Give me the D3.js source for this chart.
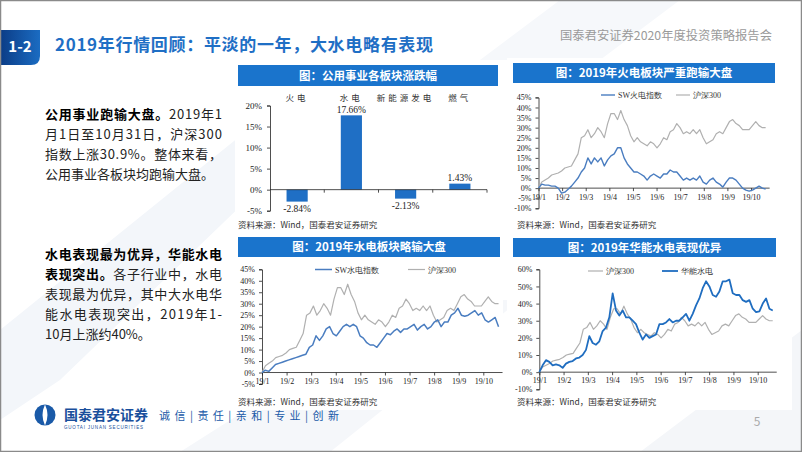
<!DOCTYPE html>
<html><head><meta charset="utf-8">
<script src="https://cdn.jsdelivr.net/npm/d3@7/dist/d3.min.js"></script>
<style>body{margin:0;background:#fff}svg{display:block}</style>
</head><body><svg id="c" width="802" height="452"></svg>
<script>
// ---------- DATA ----------
const barCats = ["火电", "水电", "新能源发电", "燃气"];
const barVals = [-2.84, 17.66, -2.13, 1.43];
const monthLabels = ["19/1","19/2","19/3","19/4","19/5","19/6","19/7","19/8","19/9","19/10"];
const END_MONTH = 9.62; // series span Jan 1 -> Oct 31 on month axis
const hs300 = [0,3,4,5,6.5,7,7.5,8.5,10,10.5,11,14,17,25,26,29,25,27,30,28,25,32,37,37,34,38.5,34,31,26,23,25,23,22,21,23,22,20,22,25,24,28,29,32,30,27,28,27,29,27,29,25,22,23,24,27,28,27,30,33,34,32,31,29,29,29,31,33,31,30,30];
const swThermal = [0,2,1.5,1.5,1,1,0,-2.5,-2,-0.5,1,3,5,8,10,15,12,15,13,15,11,14,16,17,20,20,15,12,10,8,8,7,6,4,6,7,6,5,7,7,9,8,8,6,4,5,4,5,4,6,3,2,4,5,3,2,0.5,3,5,5,4,2,0,-1,-1.5,-1,0,1,0,-0.5];
const swHydro = [0,1,0.5,2,3.5,4,4.5,5,5.5,6,6.5,7,7.5,8,11,12,16,14,16,19,20,17,16,18,20,21,20,21,20,16,15,13,12,12,11,13,15,17,16.5,18,19,17.5,19,19,20,21,18.5,20,21,19,20,22,23,20,22,22,25,26,28,25,24.5,25,26,27,25,26,23,22,23,24,20];
const hnHydro = [0,4,7,6,4,4.5,4,2.5,5,6,6.5,8,8.5,10,13,21,17,16,18,24,26,32,46,36,33,36,32,32,30,28,23,19,22,20,21,22,28,28,29,31,29,30,30,32,34,30,34,39,43,49,53,50,45,44,47,53,53,54,46,45,45,42,41,42,37,35,35.5,40,43,37,36];
const legendThermal = ["SW火电指数", "沪深300"];
const legendHydro = ["SW水电指数", "沪深300"];
const legendHN = ["沪深300", "华能水电"];

// ---------- STYLE ----------
const CJK = "'Noto Sans CJK SC','Noto Sans',sans-serif";
const SERIF = "'Liberation Serif','DejaVu Serif',serif";
const BLUE_BAR = "#1f6fc5";
const TITLE_BG = "#1a74cc";
const GRAY = "#b0b0b0";
const svg = d3.select("#c");

// background
svg.append("rect").attr("width",802).attr("height",452).attr("fill","#fff");
svg.append("path").attr("d","M0,330 L260,120 L330,120 L60,380 L0,420 Z").attr("fill","#f3f6fa");
svg.append("path").attr("d","M180,452 L420,300 L520,300 L330,452 Z").attr("fill","#f5f7fa");
svg.append("path").attr("d","M480,60 L560,0 L680,0 L600,60 Z").attr("fill","#f6f8fb");
svg.append("path").attr("d","M640,452 L802,330 L802,452 Z").attr("fill","#f4f6f9");

// header
const grad = svg.append("defs").append("linearGradient").attr("id","hg").attr("x1","0").attr("x2","1");
grad.append("stop").attr("offset","0").attr("stop-color","#0b3c86");
grad.append("stop").attr("offset","1").attr("stop-color","#1b6cc2");
svg.append("path").attr("d","M0,30 L40,30 L40,56 Q40,65 31,65 L0,65 Z").attr("fill","url(#hg)");
svg.append("text").attr("x",20).attr("y",52).attr("text-anchor","middle").attr("fill","#fff")
  .attr("font-family",CJK).attr("font-weight","bold").attr("font-size",15).text("1-2");
svg.append("text").attr("x",55).attr("y",51).attr("fill","#1f6fc5").attr("font-family",CJK)
  .attr("font-weight","bold").attr("font-size",17).attr("textLength",378).attr("lengthAdjust","spacing")
  .text("2019年行情回顾：平淡的一年，大水电略有表现");
svg.append("text").attr("x",560).attr("y",40).attr("fill","#9a9a9a").attr("font-family",CJK)
  .attr("font-size",12).attr("textLength",212).attr("lengthAdjust","spacingAndGlyphs").text("国泰君安证券2020年度投资策略报告会");

// left text
const paras = [
  {y:119, lines:[[["公用事业跑输大盘。",1],["2019年1",0]],[["月1日至10月31日，沪深300",0]],[["指数上涨30.9%。整体来看，",0]],[["公用事业各板块均跑输大盘。",0]]]},
  {y:259, lines:[[["水电表现最为优异，华能水电",1]],[["表现突出。",1],["各子行业中，水电",0]],[["表现最为优异，其中大水电华",0]],[["能水电表现突出，2019年1-",0]],[["10月上涨约40%。",0]]]}
];
paras.forEach(p=>{
  p.lines.forEach((ln,i)=>{
    const t = svg.append("text").attr("x",45).attr("y",p.y+i*20).attr("font-family",CJK).attr("font-size",13).attr("fill","#222");
    if(i < p.lines.length-1) t.attr("textLength",177).attr("lengthAdjust","spacing");
    ln.forEach(seg=>t.append("tspan").attr("font-weight",seg[1]?"bold":"normal").attr("fill",seg[1]?"#000":"#222").text(seg[0]));
  });
});

function titleBar(x,y,w,h,txt){
  svg.append("rect").attr("x",x).attr("y",y).attr("width",w).attr("height",h).attr("fill",TITLE_BG);
  svg.append("text").attr("x",x+w/2).attr("y",y+h/2+4).attr("text-anchor","middle").attr("fill","#fff")
    .attr("font-family",CJK).attr("font-weight","bold").attr("font-size",11.5).text(txt);
}
function source(x,y){
  svg.append("text").attr("x",x).attr("y",y).attr("font-family",CJK).attr("font-size",8.5).attr("fill","#333")
    .text("资料来源：Wind，国泰君安证券研究");
}
function styleAxis(g){
  g.selectAll("path,line").attr("stroke","#222").attr("stroke-width",0.8);
  g.selectAll("text").attr("font-family",SERIF).attr("font-size",8).attr("fill","#222");
}

// white panels
[[235,60,268,172],[507,58,285,174],[235,232,268,178],[507,232,285,178]].forEach(r=>
  svg.append("rect").attr("x",r[0]).attr("y",r[1]).attr("width",r[2]).attr("height",r[3]).attr("fill","#fff"));

// ---------- BAR CHART ----------
titleBar(238,65,260,21,"图：公用事业各板块涨跌幅");
{
  const x = d3.scaleBand().domain(barCats).range([270,487]).paddingInner(0.61).paddingOuter(0.305);
  const y = d3.scaleLinear().domain([-5,20]).range([210.7,105.5]);
  const gy = svg.append("g").attr("transform","translate(270,0)")
    .call(d3.axisLeft(y).tickValues([-5,0,5,10,15,20]).tickSize(3).tickPadding(5).tickFormat(d=>d+"%"));
  styleAxis(gy); gy.selectAll("text").attr("font-size",9);
  svg.selectAll(".bar").data(barVals).join("rect")
    .attr("x",(d,i)=>x(barCats[i])).attr("width",x.bandwidth())
    .attr("y",d=>y(Math.max(0,d))).attr("height",d=>Math.abs(y(d)-y(0))).attr("fill",BLUE_BAR);
  svg.append("line").attr("x1",270).attr("x2",487).attr("y1",y(0)).attr("y2",y(0)).attr("stroke","#222").attr("stroke-width",0.8);
  const step = x.step();
  for(let k=1;k<=4;k++){
    svg.append("line").attr("x1",270+k*step).attr("x2",270+k*step).attr("y1",y(0)).attr("y2",y(0)+3).attr("stroke","#222").attr("stroke-width",0.8);
  }
  svg.selectAll(".vl").data(barVals).join("text")
    .attr("x",(d,i)=>x(barCats[i])+x.bandwidth()/2)
    .attr("y",d=>d>=0? y(d)-2.5 : y(d)+10)
    .attr("text-anchor","middle").attr("font-family",SERIF).attr("font-size",9.5).attr("fill","#222")
    .text(d=>d.toFixed(2)+"%");
  svg.selectAll(".cl").data(barCats).join("text")
    .attr("x",d=>x(d)+x.bandwidth()/2).attr("y",101).attr("text-anchor","middle")
    .attr("font-family",CJK).attr("font-size",8.5).attr("letter-spacing",3).attr("fill","#333").text(d=>d);
}
source(238,228);

// ---------- LINE CHARTS ----------
function lineChart(o){
  titleBar(o.tb[0],o.tb[1],o.tb[2],o.tb[3],o.title);
  const pxm = (o.x9-o.x0)/9;
  const x = d3.scaleLinear().domain([0,END_MONTH]).range([o.x0,o.x0+END_MONTH*pxm]);
  const y = d3.scaleLinear().domain(o.yDom).range(o.yRange);
  const gy = svg.append("g").attr("transform",`translate(${o.x0},0)`)
    .call(d3.axisLeft(y).tickValues(d3.range(o.yDom[0],o.yDom[1]+0.1,o.yStep)).tickSize(3).tickPadding(4).tickFormat(d=>d+"%"));
  styleAxis(gy);
  const gx = svg.append("g").attr("transform",`translate(0,${y(0)})`)
    .call(d3.axisBottom(x).tickValues(d3.range(0,10)).tickSize(3).tickPadding(o.xpad).tickFormat(i=>monthLabels[i]));
  styleAxis(gx);
  gx.select(".domain").attr("d",`M${o.x0},0H${x(END_MONTH)+4}`);
  o.series.forEach(s=>{
    const n = s.data.length;
    const line = d3.line().x((d,i)=>x(i/(n-1)*END_MONTH)).y(d=>y(d));
    svg.append("path").datum(s.data).attr("d",line).attr("fill","none")
      .attr("stroke",s.color).attr("stroke-width",s.w).attr("stroke-linejoin","round");
  });
  o.legend.forEach(l=>{
    svg.append("line").attr("x1",l.x).attr("x2",l.x+l.len).attr("y1",o.legY).attr("y2",o.legY).attr("stroke",l.color).attr("stroke-width",l.w);
    svg.append("text").attr("x",l.x+l.len+3).attr("y",o.legY+3).attr("font-family",SERIF).attr("font-size",8).attr("fill","#333").text(l.label);
  });
}

lineChart({
  tb:[513,63,262,20], title:"图：2019年火电板块严重跑输大盘",
  x0:538.5, x9:751, yDom:[-10,45], yStep:5, yRange:[208.3,97.4], xpad:3,
  series:[{data:hs300,color:GRAY,w:1.2},{data:swThermal,color:"#4a7dc0",w:1.4}],
  legY:95, legend:[{x:601,len:14,color:"#4a7dc0",w:1.4,label:legendThermal[0]},{x:676,len:14,color:GRAY,w:1.2,label:legendThermal[1]}]
});
source(517,228);

lineChart({
  tb:[238,237,262,20], title:"图：2019年水电板块略输大盘",
  x0:262, x9:483.3, yDom:[-5,45], yStep:5, yRange:[384,269.3], xpad:2.5,
  series:[{data:hs300,color:GRAY,w:1.2},{data:swHydro,color:"#4a7dc0",w:1.5}],
  legY:269.5, legend:[{x:315,len:17,color:"#4a7dc0",w:1.5,label:legendHydro[0]},{x:408,len:17,color:GRAY,w:1.2,label:legendHydro[1]}]
});
source(238,405);

lineChart({
  tb:[513,238,263,19], title:"图：2019年华能水电表现优异",
  x0:539.3, x9:757.7, yDom:[-10,60], yStep:10, yRange:[389.3,269.3], xpad:2,
  series:[{data:hs300,color:GRAY,w:1.2},{data:hnHydro,color:"#1f6dc0",w:1.8}],
  legY:271, legend:[{x:588,len:15,color:GRAY,w:1.2,label:legendHN[0]},{x:662,len:16,color:"#1f6dc0",w:1.8,label:legendHN[1]}]
});
source(517,405);

// ---------- FOOTER ----------
svg.append("circle").attr("cx",45).attr("cy",415).attr("r",10.5).attr("fill","#1a5aa8");
svg.append("path").attr("d","M45,404.5 Q40,415 45,425.5 Q50,415 45,404.5 Z").attr("fill","#fff");
svg.append("text").attr("x",64).attr("y",420).attr("font-family",CJK).attr("font-weight","bold").attr("font-size",14).attr("fill","#1a4f9c").text("国泰君安证券");
svg.append("text").attr("x",64).attr("y",429).attr("font-family","'Liberation Sans',sans-serif").attr("font-size",4.5).attr("fill","#1a4f9c").attr("textLength",79).text("GUOTAI JUNAN SECURITIES");
svg.append("text").attr("x",159).attr("y",420).attr("font-family",CJK).attr("font-size",11).attr("fill","#1a5aa8")
  .attr("textLength",180).attr("lengthAdjust","spacing").text("诚 信 | 责 任 | 亲 和 | 专 业 | 创 新");
svg.append("text").attr("x",757).attr("y",426).attr("text-anchor","middle").attr("font-family",CJK).attr("font-size",12).attr("fill","#aaa").text("5");

// frame
svg.append("rect").attr("x",0.5).attr("y",0.5).attr("width",801).attr("height",451).attr("fill","none").attr("stroke","#8a8a8a").attr("stroke-width",1.5);
</script></body></html>
